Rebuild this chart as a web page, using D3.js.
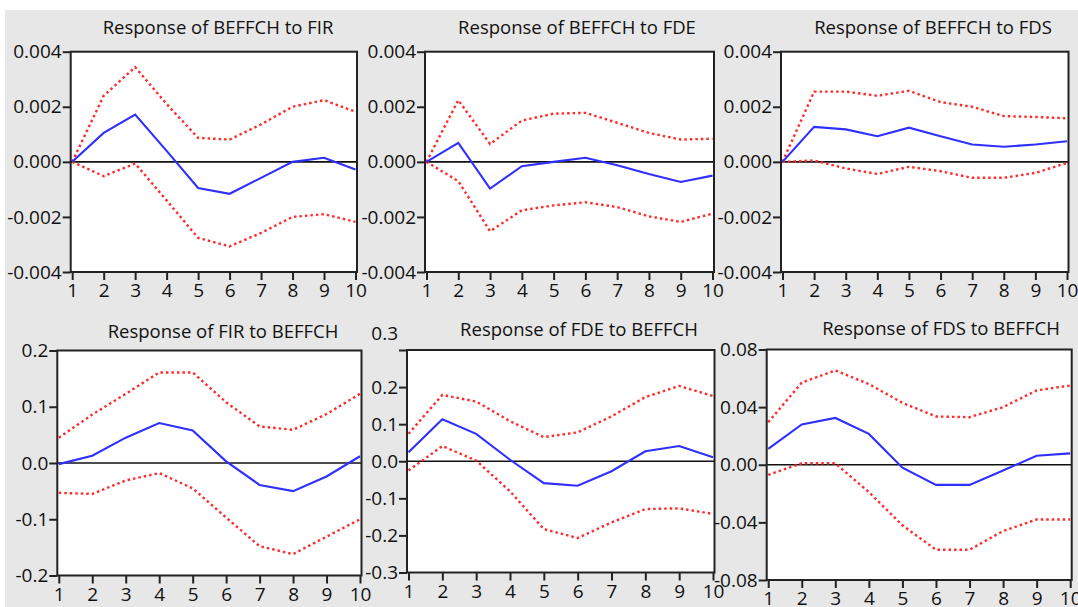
<!DOCTYPE html>
<html>
<head>
<meta charset="utf-8">
<script src="https://cdn.jsdelivr.net/npm/d3@7"></script>
<style>
  body { margin: 0; background: #fff; }
  svg { display: block; font-family: "Open Sans", "Liberation Sans", sans-serif; }
  .tick text { fill: #111; }
</style>
</head>
<body>
<div id="chart"></div>
<script>
// periods on the x axis
const periods = [1, 2, 3, 4, 5, 6, 7, 8, 9, 10];

const titles = [
    'Response of BEFFCH to FIR',
    'Response of BEFFCH to FDE',
    'Response of BEFFCH to FDS',
    'Response of FIR to BEFFCH',
    'Response of FDE to BEFFCH',
    'Response of FDS to BEFFCH'
];

// y tick values per panel
const ticksBeffch = [-0.004, -0.002, 0, 0.002, 0.004];
const ticksFir = [-0.2, -0.1, 0, 0.1, 0.2];
const ticksFde = [-0.3, -0.2, -0.1, 0, 0.1, 0.2, 0.3];
const ticksFds = [-0.08, -0.04, 0, 0.04, 0.08];

// impulse responses (blue) with +/- 2 s.e. bands (red)
const beffchFirResp  = [0, 0.00105, 0.00172, 0.0004, -0.00095, -0.00116, -0.00058, 0.0, 0.00015, -0.00028];
const beffchFirUpper = [0, 0.0024, 0.00344, 0.0021, 0.00087, 0.00081, 0.00136, 0.002, 0.00224, 0.00182];
const beffchFirLower = [0, -0.00052, -0.00006, -0.0014, -0.00276, -0.00307, -0.00258, -0.002, -0.0019, -0.00218];

const beffchFdeResp  = [0, 0.00069, -0.00097, -0.00016, 0.0, 0.00015, -0.00012, -0.00044, -0.00073, -0.0005];
const beffchFdeUpper = [0, 0.00224, 0.00065, 0.0015, 0.00175, 0.00178, 0.00142, 0.00105, 0.00081, 0.00084];
const beffchFdeLower = [0, -0.0007, -0.00252, -0.00176, -0.00158, -0.00147, -0.00164, -0.00198, -0.00218, -0.00188];

const beffchFdsResp  = [0, 0.00127, 0.00118, 0.00093, 0.00124, 0.00093, 0.00063, 0.00055, 0.00063, 0.00075];
const beffchFdsUpper = [0, 0.00255, 0.00255, 0.0024, 0.00258, 0.00217, 0.002, 0.00166, 0.00163, 0.00158];
const beffchFdsLower = [0, 0.00005, -0.00024, -0.00044, -0.00018, -0.00034, -0.00058, -0.00058, -0.0004, -0.00004];

const firResp  = [-0.002, 0.013, 0.045, 0.071, 0.058, 0.003, -0.039, -0.05, -0.024, 0.012];
const firUpper = [0.045, 0.086, 0.123, 0.161, 0.161, 0.108, 0.065, 0.059, 0.087, 0.123];
const firLower = [-0.053, -0.055, -0.031, -0.018, -0.045, -0.097, -0.148, -0.162, -0.131, -0.1];

const fdeResp  = [0.024, 0.113, 0.074, 0.004, -0.059, -0.066, -0.027, 0.027, 0.041, 0.011];
const fdeUpper = [0.074, 0.179, 0.161, 0.108, 0.065, 0.078, 0.121, 0.173, 0.203, 0.176];
const fdeLower = [-0.025, 0.041, 0.002, -0.081, -0.183, -0.207, -0.165, -0.129, -0.127, -0.142];

const fdsResp  = [0.011, 0.028, 0.0325, 0.0214, -0.002, -0.014, -0.014, -0.004, 0.0063, 0.0079];
const fdsUpper = [0.0295, 0.057, 0.0655, 0.056, 0.043, 0.0335, 0.033, 0.04, 0.0516, 0.055];
const fdsLower = [-0.007, 0.001, 0.001, -0.019, -0.042, -0.059, -0.059, -0.046, -0.038, -0.038];

const width = 1078, height = 607;

// plain hyphen for negatives, like the original output
const locale = d3.formatLocale({decimal: '.', thousands: ',', grouping: [3], currency: ['', ''], minus: '-'});

// panel boxes (plot frame) and title anchors
const panels = [
    {box: [70.7, 51.7, 357, 272],   title: [218, 34],   ticks: ticksBeffch, fmt: '.3f', resp: beffchFirResp, upper: beffchFirUpper, lower: beffchFirLower},
    {box: [425, 51.7, 714, 272],    title: [577, 34],   ticks: ticksBeffch, fmt: '.3f', resp: beffchFdeResp, upper: beffchFdeUpper, lower: beffchFdeLower},
    {box: [781, 51.7, 1068.5, 272], title: [933, 34],   ticks: ticksBeffch, fmt: '.3f', resp: beffchFdsResp, upper: beffchFdsUpper, lower: beffchFdsLower},
    {box: [57.3, 350.5, 361.5, 575.5], title: [223, 338], ticks: ticksFir, fmt: '.1f', resp: firResp, upper: firUpper, lower: firLower},
    {box: [407, 350, 714.5, 572.5], title: [579, 336],  ticks: ticksFde, fmt: '.1f', resp: fdeResp, upper: fdeUpper, lower: fdeLower, raiseTop: true},
    {box: [766.7, 349.5, 1071.7, 580], title: [941, 335], ticks: ticksFds, fmt: '.2f', resp: fdsResp, upper: fdsUpper, lower: fdsLower}
];

const svg = d3.select('#chart').append('svg')
    .attr('width', width)
    .attr('height', height);

// grey page behind the panels
svg.append('rect')
    .attr('x', 5).attr('y', 10)
    .attr('width', width - 5).attr('height', height - 10)
    .attr('fill', '#e7e7e7');

panels.forEach((p, i) => {
    const [x0, y0, x1, y1] = p.box;

    const xScale = d3.scaleLinear()
        .domain([1, 10])
        .range([x0 + 1.5, x1 - 1.5]);

    const yScale = d3.scaleLinear()
        .domain(d3.extent(p.ticks))
        .range([y1, y0]);

    const g = svg.append('g').attr('class', 'panel');

    g.append('rect')
        .attr('x', x0).attr('y', y0)
        .attr('width', x1 - x0).attr('height', y1 - y0)
        .attr('fill', '#fff');

    // zero line
    g.append('line')
        .attr('x1', x0).attr('x2', x1)
        .attr('y1', yScale(0)).attr('y2', yScale(0))
        .attr('stroke', '#111')
        .attr('stroke-width', 1.7);

    const line = d3.line()
        .x((d, k) => xScale(periods[k]))
        .y(d => yScale(d));

    [p.upper, p.lower].forEach(band => {
        g.append('path')
            .attr('d', line(band))
            .attr('fill', 'none')
            .attr('stroke', '#ff2b2b')
            .attr('stroke-width', 2.4)
            .attr('stroke-dasharray', '2.5,3');
    });

    g.append('path')
        .attr('d', line(p.resp))
        .attr('fill', 'none')
        .attr('stroke', '#2f2fff')
        .attr('stroke-width', 2.1);

    // frame
    g.append('rect')
        .attr('x', x0).attr('y', y0)
        .attr('width', x1 - x0).attr('height', y1 - y0)
        .attr('fill', 'none')
        .attr('stroke', '#222')
        .attr('stroke-width', 2);

    const yAxis = d3.axisLeft(yScale)
        .tickValues(p.ticks)
        .tickSize(8)
        .tickPadding(1)
        .tickFormat(locale.format(p.fmt));

    const xAxis = d3.axisBottom(xScale)
        .tickValues(periods)
        .tickSize(8)
        .tickPadding(4)
        .tickFormat(d3.format('d'));

    const yAxisG = g.append('g')
        .attr('transform', `translate(${x0},0)`)
        .call(yAxis)
        .call(a => a.select('.domain').remove());

    yAxisG.selectAll('.tick line').attr('stroke', '#222').attr('stroke-width', 2);
    yAxisG.selectAll('.tick text')
        .attr('font-size', '19px')
        .attr('font-family', '"Open Sans", sans-serif');

    if (p.raiseTop) {
        yAxisG.selectAll('.tick text')
            .filter(d => d === d3.max(p.ticks))
            .attr('y', -17);
    }

    const xAxisG = g.append('g')
        .attr('transform', `translate(0,${y1})`)
        .call(xAxis)
        .call(a => a.select('.domain').remove());

    xAxisG.selectAll('.tick line').attr('stroke', '#222').attr('stroke-width', 2);
    xAxisG.selectAll('.tick text')
        .attr('font-size', '19px')
        .attr('font-family', '"Open Sans", sans-serif');

    g.append('text')
        .attr('x', p.title[0])
        .attr('y', p.title[1])
        .attr('text-anchor', 'middle')
        .attr('font-size', '18.5px')
        .attr('fill', '#111')
        .text(titles[i]);
});
</script>
</body>
</html>
